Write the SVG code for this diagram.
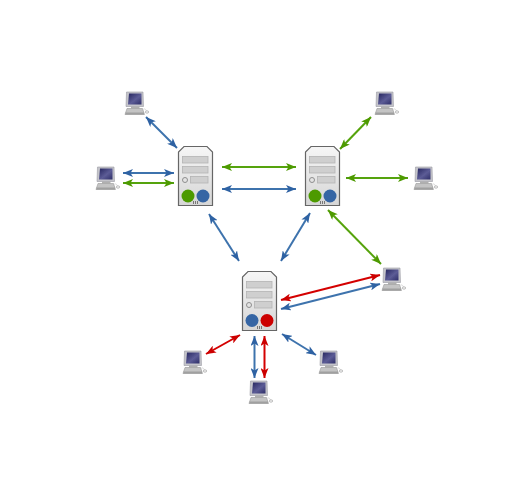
<svg xmlns="http://www.w3.org/2000/svg" width="522" height="480" viewBox="0 0 522 480">
<style>
.c{fill:none;stroke-width:2}
.b{stroke:#3e73ad}.g{stroke:#55a30a}.r{stroke:#d40000}
.bay{fill:#cfcfcf;stroke:#b4b4b4;stroke-width:.8}
</style>
<defs>
<filter id="soft" x="0" y="0" width="522" height="480" filterUnits="userSpaceOnUse"><feGaussianBlur stdDeviation="0.4"/></filter>
<linearGradient id="sv" x1="0" y1="0" x2="0" y2="1"><stop offset="0" stop-color="#f6f6f6"/><stop offset="1" stop-color="#d6d6d6"/></linearGradient>
<linearGradient id="scr" x1="0" y1="0" x2="1" y2="1"><stop offset="0" stop-color="#26265f"/><stop offset=".55" stop-color="#5c5c96"/><stop offset="1" stop-color="#2e2e68"/></linearGradient>
<marker id="mb" viewBox="0 0 10 8" refX="10" refY="4" markerWidth="10" markerHeight="8" markerUnits="userSpaceOnUse" orient="auto-start-reverse"><path d="M0 0L10 4L0 8L2.500 4Z" fill="#2f62a3"/></marker>
<marker id="mg" viewBox="0 0 10 8" refX="10" refY="4" markerWidth="10" markerHeight="8" markerUnits="userSpaceOnUse" orient="auto-start-reverse"><path d="M0 0L10 4L0 8L2.500 4Z" fill="#4e9a06"/></marker>
<marker id="mr" viewBox="0 0 10 8" refX="10" refY="4" markerWidth="10" markerHeight="8" markerUnits="userSpaceOnUse" orient="auto-start-reverse"><path d="M0 0L10 4L0 8L2.500 4Z" fill="#cc0000"/></marker>
<g id="server">
<path d="M6 0.500H29L34.500 6V59.500H0.500V6Z" fill="url(#sv)" stroke="#666" stroke-width="1.200"/>
<rect x="4.500" y="10.500" width="25.500" height="6.500" class="bay"/>
<rect x="4.500" y="20.500" width="25.500" height="6.500" class="bay"/>
<rect x="12.500" y="30.500" width="17.500" height="6.500" class="bay"/>
<circle cx="7" cy="34" r="2.500" fill="#e4e4e4" stroke="#8e8e8e"/>
<rect x="15" y="55" width="1" height="3" fill="#777"/><rect x="17" y="55" width="1" height="3" fill="#777"/><rect x="19" y="55" width="1" height="3" fill="#777"/>
</g>
<g id="pc">
<path d="M2.500 0H19L19.500 14.500H2Z" fill="#c4c4ca" stroke="#9a9aa2" stroke-width=".6"/>
<path d="M5 1.500H17.500L17.500 12.500H4Z" fill="url(#scr)"/>
<rect x="7" y="14.500" width="8.500" height="2" fill="#b0b0b0"/>
<path d="M3 16.500H18.500L20.500 22.500H1Z" fill="#c4c4c4" stroke="#999" stroke-width=".6"/>
<rect x="1.500" y="20.500" width="18.500" height="2" fill="#a0a0a0"/>
<path d="M19.500 17C21.500 16.500 22 18 22.500 19" fill="none" stroke="#bbb" stroke-width=".5"/>
<ellipse cx="23" cy="20" rx="1.700" ry="1.300" fill="#e8e8e8" stroke="#999" stroke-width=".5"/>
</g>
</defs>
<rect width="522" height="480" fill="#fff"/>
<g filter="url(#soft)">
<g id="connectors">
<path class="c b" d="M146 117L177 148" marker-start="url(#mb)" marker-end="url(#mb)"/>
<path class="c b" d="M123 173H174" marker-start="url(#mb)" marker-end="url(#mb)"/>
<path class="c g" d="M123 183H174" marker-start="url(#mg)" marker-end="url(#mg)"/>
<path class="c g" d="M222 167H296" marker-start="url(#mg)" marker-end="url(#mg)"/>
<path class="c b" d="M222 189H296" marker-start="url(#mb)" marker-end="url(#mb)"/>
<path class="c g" d="M371 117L340 149" marker-start="url(#mg)" marker-end="url(#mg)"/>
<path class="c g" d="M346 178H408" marker-start="url(#mg)" marker-end="url(#mg)"/>
<path class="c b" d="M209 214L239 261" marker-start="url(#mb)" marker-end="url(#mb)"/>
<path class="c b" d="M310 213L281 261" marker-start="url(#mb)" marker-end="url(#mb)"/>
<path class="c g" d="M328 210L381 264" marker-start="url(#mg)" marker-end="url(#mg)"/>
<path class="c r" d="M281 300L380 275" marker-start="url(#mr)" marker-end="url(#mr)"/>
<path class="c b" d="M281 309L380 284" marker-start="url(#mb)" marker-end="url(#mb)"/>
<path class="c r" d="M206 354L240 335" marker-start="url(#mr)" marker-end="url(#mr)"/>
<path class="c b" d="M282 334L316 355" marker-start="url(#mb)" marker-end="url(#mb)"/>
<path class="c b" d="M254.500 336V378" marker-start="url(#mb)" marker-end="url(#mb)"/>
<path class="c r" d="M264.500 336V378" marker-start="url(#mr)" marker-end="url(#mr)"/>
</g>
<g id="server-a"><use href="#server" x="178" y="146"/><circle cx="188" cy="196" r="6.500" fill="#4e9a06"/><circle cx="203" cy="196" r="6.500" fill="#3465a4"/></g>
<g id="server-b"><use href="#server" x="305" y="146"/><circle cx="315" cy="196" r="6.500" fill="#4e9a06"/><circle cx="330" cy="196" r="6.500" fill="#3465a4"/></g>
<g id="server-c"><use href="#server" x="242" y="271"/><circle cx="252" cy="320.500" r="6.500" fill="#3465a4"/><circle cx="267" cy="320.500" r="6.500" fill="#cc0000"/></g>
<g id="pc-1"><use href="#pc" x="124" y="92"/></g>
<g id="pc-2"><use href="#pc" x="95" y="167"/></g>
<g id="pc-3"><use href="#pc" x="374" y="92"/></g>
<g id="pc-4"><use href="#pc" x="413" y="167"/></g>
<g id="pc-5"><use href="#pc" x="381" y="268"/></g>
<g id="pc-6"><use href="#pc" x="182" y="351"/></g>
<g id="pc-7"><use href="#pc" x="248" y="381"/></g>
<g id="pc-8"><use href="#pc" x="318" y="351"/></g>
</g>
</svg>
